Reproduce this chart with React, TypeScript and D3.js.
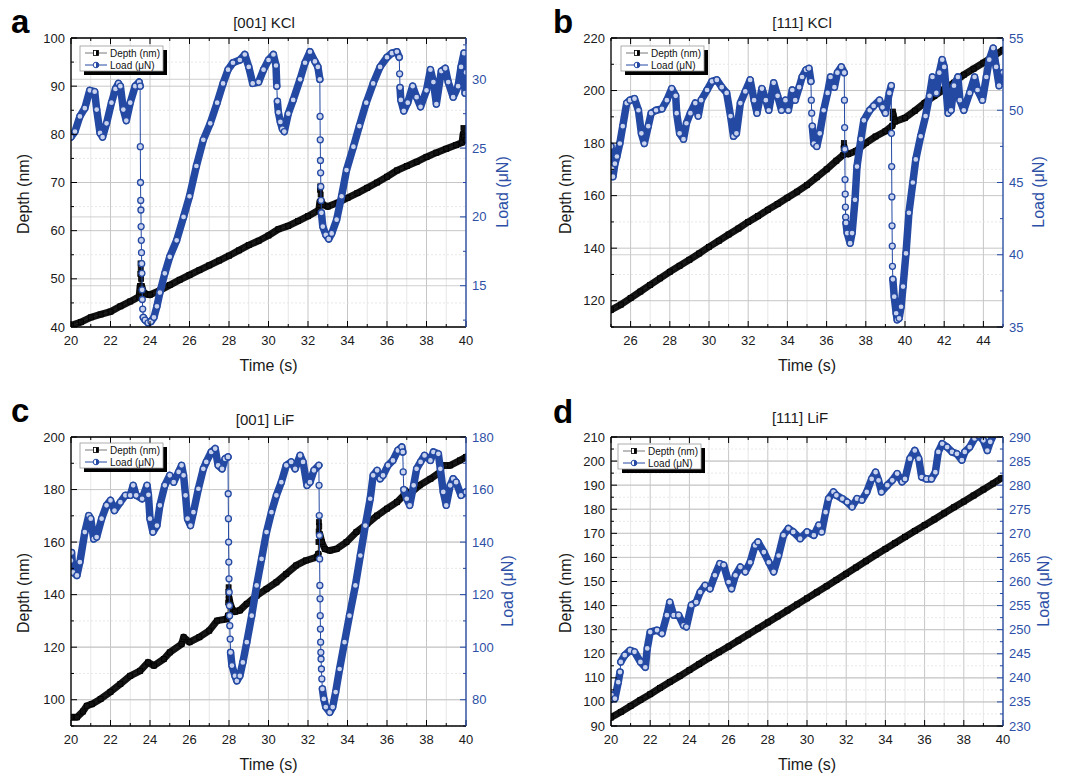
import React, { useEffect, useRef } from 'react';
import * as d3 from 'd3';

type Pt = [number, number];

const BLUE = '#2449a3';
const BLUE_TEXT = '#2d4fa6';
const FONT = 'Liberation Sans, Arial, Helvetica, sans-serif';

// ---- [001] KCl ----
const depthA: Pt[] = [
  [20.0, 40.3], [20.5, 41.0], [21.0, 42.0], [21.5, 42.6], [22.0, 43.2], [22.5, 44.3], [23.0, 45.3], [23.45, 46.3],
  [23.5, 48.5], [23.51, 51.0], [23.52, 53.2], [23.53, 52.0], [23.55, 50.0], [23.58, 48.5], [23.65, 47.5],
  [23.8, 46.8], [24.0, 46.7], [24.5, 47.6], [25.0, 48.7], [25.5, 49.8], [26.0, 50.8], [26.5, 51.8], [27.0, 52.8],
  [27.5, 53.8], [28.0, 54.8], [28.5, 55.9], [29.0, 57.0], [29.5, 57.9], [30.0, 59.0], [30.5, 60.3], [31.0, 61.0],
  [31.5, 62.0], [32.0, 63.0], [32.55, 64.3],
  [32.6, 66.0], [32.61, 68.5], [32.62, 69.2], [32.64, 67.5], [32.67, 66.2], [32.75, 65.4],
  [33.0, 65.0], [33.5, 65.8], [34.0, 66.8], [34.5, 67.8], [35.0, 68.9], [35.5, 70.0], [36.0, 71.2], [36.5, 72.5],
  [37.0, 73.4], [37.5, 74.3], [38.0, 75.3], [38.5, 76.2], [39.0, 77.0], [39.5, 77.8], [39.8, 78.3],
  [39.85, 80.0], [39.87, 81.3], [39.9, 79.5], [40.0, 78.8],
];
const loadA: Pt[] = [
  [20.0, 25.8], [20.2, 26.2], [20.45, 27.3], [20.7, 27.9], [20.95, 29.2], [21.2, 29.1], [21.3, 27.8], [21.47, 26.1],
  [21.6, 25.8], [21.8, 26.8], [22.05, 28.3], [22.25, 29.3], [22.4, 29.7], [22.5, 29.5], [22.65, 27.8], [22.8, 27.0],
  [23.0, 28.3], [23.25, 29.5], [23.45, 29.8], [23.5, 29.5],
  [23.51, 25.1], [23.52, 22.5], [23.53, 21.2], [23.54, 20.5], [23.55, 19.3], [23.56, 18.3], [23.57, 17.4],
  [23.58, 16.6], [23.59, 15.9], [23.6, 14.7], [23.61, 14.0], [23.63, 13.3], [23.66, 12.7],
  [23.75, 12.5], [23.9, 12.3], [24.05, 12.4], [24.2, 12.7], [24.35, 13.5], [24.5, 14.5], [24.75, 15.9], [25.0, 17.1],
  [25.35, 18.3], [25.7, 20.0], [26.0, 21.5], [26.35, 23.7], [26.7, 25.6], [27.05, 26.8], [27.4, 28.3], [27.7, 29.7],
  [27.95, 30.7], [28.2, 31.2], [28.55, 31.4], [28.8, 31.8], [29.0, 30.9], [29.2, 29.7], [29.5, 29.8], [29.75, 30.7],
  [30.0, 31.4], [30.25, 31.8], [30.38, 31.0],
  [30.42, 29.5], [30.45, 28.4], [30.5, 27.6], [30.6, 26.9], [30.7, 26.4], [30.8, 26.2], [31.0, 27.5], [31.25, 28.5],
  [31.6, 30.0], [31.85, 31.2], [32.1, 32.0], [32.35, 31.3], [32.5, 30.9], [32.6, 30.0],
  [32.61, 27.3], [32.62, 25.6], [32.63, 24.1], [32.64, 23.2], [32.65, 22.2], [32.66, 21.2], [32.68, 20.3],
  [32.75, 19.3], [32.9, 18.7], [33.05, 18.4], [33.2, 18.8], [33.45, 19.8], [33.7, 21.5], [33.95, 23.4], [34.3, 25.1],
  [34.6, 26.6], [34.95, 28.3], [35.3, 29.7], [35.65, 30.9], [36.0, 31.6], [36.25, 31.9], [36.5, 32.0], [36.62, 31.6],
  [36.64, 30.4], [36.66, 29.4], [36.7, 28.5], [36.85, 27.7], [37.05, 28.3], [37.3, 29.5], [37.5, 28.7], [37.7, 28.0],
  [38.0, 29.2], [38.2, 30.7], [38.35, 29.8], [38.5, 28.2], [38.75, 30.6], [38.95, 30.8], [39.1, 29.8], [39.35, 28.7],
  [39.6, 29.5], [39.75, 30.9], [39.9, 31.9], [39.95, 29.0], [40.0, 30.5],
];

// ---- [111] KCl ----
const depthB: Pt[] = [
  [25.0, 116.5], [25.5, 118.5], [26.0, 121.0], [26.5, 123.5], [27.0, 126.0], [27.5, 128.5], [28.0, 131.0],
  [28.5, 133.3], [29.0, 135.6], [29.5, 138.0], [30.0, 140.5], [30.5, 142.8], [31.0, 145.2], [31.5, 147.5],
  [32.0, 150.0], [32.5, 152.2], [33.0, 154.6], [33.5, 156.8], [34.0, 159.2], [34.5, 161.5], [35.0, 164.0],
  [35.5, 167.0], [36.0, 170.0], [36.5, 173.3], [36.85, 175.5],
  [36.87, 178.0], [36.88, 180.0], [36.9, 178.5], [36.95, 176.5],
  [37.1, 175.8], [37.5, 177.0], [38.0, 180.0], [38.5, 182.5], [39.0, 184.5], [39.35, 186.6],
  [39.37, 189.5], [39.38, 192.0], [39.4, 191.0], [39.45, 189.0],
  [39.5, 188.2], [40.0, 189.6], [40.5, 192.3], [41.0, 195.3], [41.5, 198.0], [42.0, 200.5], [42.5, 203.0],
  [43.0, 206.0], [43.5, 208.3], [44.0, 210.6], [44.5, 213.0], [45.0, 215.5],
];
const loadB: Pt[] = [
  [25.0, 47.5], [25.05, 46.0], [25.1, 45.4], [25.2, 46.3], [25.3, 46.8], [25.45, 47.7], [25.6, 48.9], [25.8, 50.5],
  [25.97, 50.7], [26.2, 50.8], [26.4, 50.0], [26.55, 48.4], [26.7, 47.7], [26.9, 48.9], [27.05, 49.8], [27.3, 50.0],
  [27.6, 50.1], [27.85, 50.7], [28.1, 51.5], [28.3, 51.0], [28.35, 49.8], [28.5, 48.4], [28.7, 48.0], [28.85, 49.1],
  [29.05, 49.8], [29.3, 50.5], [29.45, 49.6], [29.6, 50.7], [29.9, 51.4], [30.15, 52.0], [30.4, 52.1], [30.65, 51.6],
  [30.9, 51.2], [31.1, 49.6], [31.25, 48.2], [31.4, 48.4], [31.6, 50.5], [31.85, 51.3], [32.1, 52.1], [32.3, 50.7],
  [32.45, 49.8], [32.7, 51.5], [32.9, 50.7], [33.05, 50.0], [33.3, 51.9], [33.5, 51.0], [33.7, 50.0], [33.9, 50.7],
  [34.05, 50.0], [34.25, 51.4], [34.4, 50.7], [34.6, 51.6], [34.75, 52.3], [34.95, 52.8], [35.1, 52.9], [35.2, 52.0],
  [35.22, 50.7], [35.24, 49.8], [35.27, 48.9],
  [35.35, 47.7], [35.5, 47.5], [35.65, 48.4], [35.85, 50.0], [36.05, 51.2], [36.2, 52.3], [36.4, 51.6], [36.55, 52.6],
  [36.75, 53.0], [36.9, 52.6],
  [36.91, 50.7], [36.92, 48.8], [36.93, 47.3], [36.94, 45.2], [36.95, 44.2], [36.96, 43.3], [36.97, 42.6], [36.99, 42.2],
  [37.05, 41.5], [37.2, 40.8], [37.3, 41.5], [37.45, 43.8], [37.55, 46.1], [37.75, 48.0], [37.9, 49.3], [38.2, 50.0],
  [38.4, 50.3], [38.7, 50.7], [38.85, 50.2], [39.0, 49.8], [39.2, 51.2], [39.3, 51.7],
  [39.31, 48.4], [39.32, 46.1], [39.33, 44.0], [39.34, 42.0], [39.35, 40.6], [39.36, 39.2], [39.38, 38.3],
  [39.45, 37.1], [39.55, 35.95], [39.6, 35.5], [39.7, 35.6], [39.8, 36.4], [39.9, 37.8], [40.05, 40.1], [40.2, 42.9],
  [40.4, 45.0], [40.55, 46.6], [40.8, 48.2], [41.05, 49.6], [41.25, 51.0], [41.4, 52.3], [41.6, 51.2], [41.75, 52.6],
  [41.9, 53.5], [42.0, 53.0], [42.2, 49.8], [42.35, 50.0], [42.5, 51.7], [42.7, 52.3], [42.8, 50.7], [43.0, 50.0],
  [43.3, 51.2], [43.55, 52.3], [43.7, 51.4], [43.95, 50.7], [44.15, 52.3], [44.3, 53.5], [44.5, 54.3], [44.65, 53.0],
  [44.8, 51.7], [45.0, 52.6],
];

// ---- [001] LiF ----
const depthC: Pt[] = [
  [20.0, 93.3], [20.3, 93.3], [20.6, 95.5], [20.8, 97.7], [21.05, 98.3], [21.5, 100.3], [22.0, 103.0], [22.5, 106.0],
  [23.0, 109.1], [23.5, 111.0], [23.9, 114.2], [24.2, 113.0], [24.7, 115.5], [25.0, 118.0], [25.6, 121.2],
  [25.7, 123.8], [26.0, 121.9], [26.5, 123.8], [27.0, 126.3], [27.4, 130.1], [27.9, 130.7], [27.95, 132.0],
  [27.96, 137.0], [27.97, 141.0], [27.98, 142.8], [27.99, 141.0], [28.0, 139.0],
  [28.05, 137.0], [28.15, 134.6], [28.3, 133.5], [28.55, 134.0], [28.9, 136.5], [29.4, 139.6], [29.9, 142.2],
  [30.4, 144.7], [30.9, 147.9], [31.4, 151.1], [31.9, 153.0], [32.45, 154.3], [32.52, 155.5],
  [32.53, 160.0], [32.54, 164.0], [32.55, 167.6], [32.57, 166.0], [32.6, 163.0],
  [32.7, 160.0], [32.85, 157.4], [33.1, 156.8], [33.45, 157.4], [33.95, 160.0], [34.45, 163.8], [35.0, 167.0],
  [35.5, 170.1], [36.0, 172.7], [36.5, 175.2], [36.85, 177.8], [36.9, 179.7], [37.15, 178.4], [37.65, 181.6],
  [38.2, 184.1], [38.7, 186.7], [38.75, 189.2], [39.2, 189.2], [39.7, 191.1], [40.0, 192.4],
];
const loadC: Pt[] = [
  [20.0, 133.0], [20.03, 136.0], [20.1, 128.5], [20.3, 127.3], [20.45, 132.4], [20.7, 143.8], [20.9, 150.1],
  [21.0, 148.9], [21.15, 141.2], [21.3, 141.9], [21.55, 148.9], [21.8, 154.0], [22.0, 155.9], [22.2, 152.0],
  [22.5, 155.2], [22.75, 157.8], [23.0, 157.8], [23.15, 161.6], [23.3, 157.8], [23.6, 156.5], [23.85, 161.6],
  [23.92, 158.0], [24.0, 148.9], [24.15, 143.8], [24.35, 146.3], [24.5, 154.0], [24.75, 161.6], [25.0, 165.4],
  [25.2, 162.8], [25.45, 166.7], [25.6, 169.2], [25.7, 165.4], [25.8, 157.8], [25.9, 148.9], [26.05, 146.3],
  [26.2, 151.4], [26.45, 160.3], [26.7, 167.9], [26.85, 170.5], [27.1, 174.3], [27.3, 175.6], [27.45, 169.2],
  [27.65, 167.9], [27.8, 171.7], [27.95, 172.4],
  [27.96, 158.4], [27.97, 148.9], [27.98, 140.0], [27.99, 132.4], [28.0, 126.0], [28.01, 120.9], [28.02, 115.8],
  [28.03, 112.0], [28.04, 108.2], [28.06, 103.1], [28.08, 98.0],
  [28.15, 93.0], [28.3, 89.1], [28.4, 87.2], [28.55, 89.1], [28.7, 94.2], [28.9, 101.9], [29.15, 112.0],
  [29.4, 123.5], [29.65, 133.6], [29.9, 143.8], [30.15, 151.4], [30.4, 157.8], [30.65, 162.8], [30.9, 169.2],
  [31.15, 170.5], [31.35, 167.9], [31.6, 173.0], [31.75, 170.5], [31.95, 161.6], [32.1, 162.8], [32.3, 167.3],
  [32.55, 169.2],
  [32.56, 161.6], [32.57, 150.1], [32.58, 142.5], [32.59, 133.6], [32.6, 123.5], [32.61, 118.4], [32.62, 112.0],
  [32.63, 106.9], [32.64, 101.9], [32.65, 98.0], [32.66, 95.5], [32.68, 91.7], [32.7, 87.9], [32.73, 84.1],
  [32.8, 80.3], [32.9, 77.2], [33.1, 75.2], [33.25, 77.2], [33.4, 82.9], [33.6, 91.7], [33.85, 101.9], [34.1, 112.0],
  [34.4, 123.5], [34.65, 134.9], [34.9, 146.3], [35.15, 156.5], [35.3, 165.4], [35.5, 167.3], [35.65, 164.1],
  [35.8, 165.4], [36.05, 169.2], [36.3, 171.1], [36.55, 174.9], [36.75, 176.2], [36.8, 174.3],
  [36.82, 166.7], [36.85, 160.0],
  [37.0, 156.5], [37.15, 154.0], [37.35, 161.6], [37.5, 167.9], [37.7, 170.5], [37.9, 173.0], [38.2, 171.1],
  [38.35, 174.3], [38.6, 173.6], [38.7, 167.9], [38.85, 159.1], [39.0, 154.0], [39.2, 161.6], [39.35, 164.1],
  [39.5, 162.8], [39.75, 157.8], [40.0, 159.1],
];

// ---- [111] LiF ----
const depthD: Pt[] = [
  [20.0, 93.5], [20.5, 95.8], [21.0, 98.3], [21.5, 100.8], [22.0, 103.2], [22.5, 105.8], [23.0, 108.3],
  [23.5, 110.7], [24.0, 113.2], [24.5, 115.7], [25.0, 118.2], [25.5, 120.6], [26.0, 123.0], [26.5, 125.5],
  [27.0, 128.0], [27.5, 130.5], [28.0, 133.0], [28.5, 135.5], [29.0, 138.0], [29.5, 140.5], [30.0, 143.0],
  [30.5, 145.5], [31.0, 148.0], [31.5, 150.6], [32.0, 153.2], [32.5, 155.8], [33.0, 158.4], [33.5, 161.0],
  [34.0, 163.5], [34.5, 166.0], [35.0, 168.5], [35.5, 171.0], [36.0, 173.4], [36.5, 175.8], [37.0, 178.3],
  [37.5, 180.8], [38.0, 183.2], [38.5, 185.7], [39.0, 188.2], [39.5, 190.7], [39.9, 192.8],
];
const loadD: Pt[] = [
  [20.0, 235.5], [20.03, 236.4], [20.2, 235.7], [20.37, 239.1], [20.46, 241.2], [20.5, 243.3], [20.7, 244.7],
  [20.97, 245.7], [21.2, 245.4], [21.5, 243.3], [21.75, 242.2], [21.85, 246.1], [22.0, 249.5], [22.35, 249.9],
  [22.6, 249.2], [22.85, 253.0], [23.0, 255.7], [23.2, 253.0], [23.45, 253.0], [23.7, 250.9], [23.85, 250.6],
  [24.1, 255.1], [24.35, 255.7], [24.55, 257.8], [24.8, 259.2], [25.05, 258.5], [25.3, 261.3], [25.55, 263.7],
  [25.75, 263.4], [26.0, 259.9], [26.15, 258.5], [26.35, 261.3], [26.6, 263.0], [26.85, 262.0], [27.1, 264.0],
  [27.35, 267.5], [27.5, 268.2], [27.8, 266.1], [28.05, 264.0], [28.3, 262.0], [28.55, 265.4], [28.8, 269.6],
  [29.05, 271.0], [29.3, 270.3], [29.65, 268.9], [30.0, 270.3], [30.35, 269.6], [30.6, 271.7], [30.75, 270.3],
  [30.95, 274.4], [31.1, 277.2], [31.35, 278.6], [31.5, 277.9], [31.8, 277.2], [32.05, 276.5], [32.3, 275.5],
  [32.55, 277.2], [32.8, 276.9], [33.05, 278.6], [33.3, 281.3], [33.5, 282.7], [33.65, 281.0], [33.8, 278.6],
  [34.1, 280.0], [34.35, 281.0], [34.6, 282.4], [34.85, 280.7], [35.0, 281.3], [35.25, 285.5], [35.5, 287.2],
  [35.7, 285.5], [35.85, 281.7], [36.1, 281.3], [36.35, 281.3], [36.55, 282.7], [36.7, 286.9], [36.9, 288.6],
  [37.15, 287.9], [37.4, 286.9], [37.65, 286.5], [37.9, 285.2], [38.05, 286.9], [38.3, 287.9], [38.55, 289.7],
  [38.75, 290.3], [39.0, 289.3], [39.2, 287.2], [39.35, 289.0], [39.55, 290.7],
];

// tick labels
const TIME_TICKS = [20, 22, 24, 26, 28, 30, 32, 34, 36, 38, 40];
const TIME_TICKS_B = [26, 28, 30, 32, 34, 36, 38, 40, 42, 44];
const DEPTH_TICKS_A = [40, 50, 60, 70, 80, 90, 100];
const LOAD_TICKS_A = [15, 20, 25, 30];
const DEPTH_TICKS_B = [120, 140, 160, 180, 200, 220];
const LOAD_TICKS_B = [35, 40, 45, 50, 55];
const DEPTH_TICKS_C = [100, 120, 140, 160, 180, 200];
const LOAD_TICKS_C = [80, 100, 120, 140, 160, 180];
const DEPTH_TICKS_D = [90, 100, 110, 120, 130, 140, 150, 160, 170, 180, 190, 200, 210];
const LOAD_TICKS_D = [230, 235, 240, 245, 250, 255, 260, 265, 270, 275, 280, 285, 290];

const PANELS = [
  {
    id: 'a', title: '[001] KCl', depth: depthA, load: loadA,
    tDomain: [20, 40], tTicks: TIME_TICKS, dDomain: [40, 100], dTicks: DEPTH_TICKS_A, dStep: 10,
    lDomain: [12, 33], lTicks: LOAD_TICKS_A, lStep: 5,
    box: { left: 71, right: 466, top: 38, bottom: 327 },
    letter: [11, 33], titleAt: [264, 28], depthLabelX: 23, loadLabelX: 502, legend: [80, 46],
  },
  {
    id: 'b', title: '[111] KCl', depth: depthB, load: loadB,
    tDomain: [25, 45], tTicks: TIME_TICKS_B, dDomain: [110, 220], dTicks: DEPTH_TICKS_B, dStep: 20,
    lDomain: [35, 55], lTicks: LOAD_TICKS_B, lStep: 5,
    box: { left: 611, right: 1003, top: 38, bottom: 327 },
    letter: [553, 33], titleAt: [802, 28], depthLabelX: 565, loadLabelX: 1038, legend: [621, 46],
  },
  {
    id: 'c', title: '[001] LiF', depth: depthC, load: loadC,
    tDomain: [20, 40], tTicks: TIME_TICKS, dDomain: [90, 200], dTicks: DEPTH_TICKS_C, dStep: 20,
    lDomain: [70, 180], lTicks: LOAD_TICKS_C, lStep: 20,
    box: { left: 71, right: 466, top: 437, bottom: 726 },
    letter: [11, 422], titleAt: [265, 425], depthLabelX: 23, loadLabelX: 507, legend: [80, 443],
  },
  {
    id: 'd', title: '[111] LiF', depth: depthD, load: loadD,
    tDomain: [20, 40], tTicks: TIME_TICKS, dDomain: [90, 210], dTicks: DEPTH_TICKS_D, dStep: 10,
    lDomain: [230, 290], lTicks: LOAD_TICKS_D, lStep: 5,
    box: { left: 611, right: 1003, top: 437, bottom: 726 },
    letter: [553, 423], titleAt: [800, 423], depthLabelX: 565, loadLabelX: 1043, legend: [618, 444],
  },
];

// split a series into runs of normally spaced samples; fast jumps are drawn thin
function denseRuns(pts: Pt[], gap: number): Pt[][] {
  const out: Pt[][] = [];
  let cur: Pt[] = [pts[0]];
  for (let i = 1; i < pts.length; i++) {
    if (pts[i][0] - pts[i - 1][0] >= gap) cur.push(pts[i]);
    else {
      if (cur.length > 1) out.push(cur);
      cur = [pts[i]];
    }
  }
  if (cur.length > 1) out.push(cur);
  return out;
}

function halfSteps(domain: number[], step: number) {
  const h = step / 2;
  const start = Math.ceil(domain[0] / h - 1e-9) * h;
  return d3.range(start, domain[1] + 1e-6, h);
}

function drawPanel(svg: any, p: any) {
  const { left, right, top, bottom } = p.box;
  const x = d3.scaleLinear().domain(p.tDomain).range([left, right]);
  const yD = d3.scaleLinear().domain(p.dDomain).range([bottom, top]);
  const yL = d3.scaleLinear().domain(p.lDomain).range([bottom, top]);
  const g = svg.append('g');

  const clipId = `clip-${p.id}`;
  g.append('clipPath').attr('id', clipId)
    .append('rect').attr('x', left).attr('y', top).attr('width', right - left).attr('height', bottom - top);

  const tAll = d3.range(Math.ceil(p.tDomain[0]), p.tDomain[1] + 1e-6, 1);
  const dAll = halfSteps(p.dDomain, p.dStep);
  const lAll = halfSteps(p.lDomain, p.lStep);
  const isMajor = (v: number, ticks: number[]) => ticks.some(t => Math.abs(t - v) < 1e-6);

  // grid
  const grid = g.append('g');
  tAll.forEach(t => {
    const major = isMajor(t, p.tTicks);
    grid.append('line')
      .attr('x1', x(t)).attr('x2', x(t)).attr('y1', top).attr('y2', bottom)
      .attr('stroke', major ? '#c6c6c6' : '#e1e1e1')
      .attr('stroke-width', major ? 1 : 0.8);
  });
  dAll.forEach(v => {
    const major = isMajor(v, p.dTicks);
    grid.append('line')
      .attr('x1', left).attr('x2', right).attr('y1', yD(v)).attr('y2', yD(v))
      .attr('stroke', major ? '#c6c6c6' : '#e2e2e2')
      .attr('stroke-width', major ? 1 : 0.8)
      .attr('stroke-dasharray', major ? null : '2,2');
  });
  p.lTicks.forEach((v: number) => {
    grid.append('line')
      .attr('x1', left).attr('x2', right).attr('y1', yL(v)).attr('y2', yL(v))
      .attr('stroke', '#cbcbcb').attr('stroke-width', 0.9);
  });

  const data = g.append('g').attr('clip-path', `url(#${clipId})`);

  // depth (black squares)
  const lineD = d3.line<Pt>().x(d => x(d[0])).y(d => yD(d[1]));
  denseRuns(p.depth, 0.04).forEach(run => {
    data.append('path').attr('d', lineD(run)).attr('fill', 'none')
      .attr('stroke', '#111').attr('stroke-width', 7).attr('stroke-linejoin', 'round').attr('stroke-linecap', 'round');
  });
  data.append('path').attr('d', lineD(p.depth)).attr('fill', 'none').attr('stroke', '#222').attr('stroke-width', 1);
  data.selectAll('rect.dp').data(p.depth).join('rect').attr('class', 'dp')
    .attr('x', (d: Pt) => x(d[0]) - 2.5).attr('y', (d: Pt) => yD(d[1]) - 2.5)
    .attr('width', 5).attr('height', 5)
    .attr('fill', '#111').attr('stroke', '#000').attr('stroke-width', 0.8);

  // load (blue circles)
  const lineL = d3.line<Pt>().x(d => x(d[0])).y(d => yL(d[1]));
  denseRuns(p.load, 0.04).forEach(run => {
    data.append('path').attr('d', lineL(run)).attr('fill', 'none')
      .attr('stroke', BLUE).attr('stroke-width', 7.5).attr('stroke-linejoin', 'round').attr('stroke-linecap', 'round');
  });
  data.append('path').attr('d', lineL(p.load)).attr('fill', 'none').attr('stroke', BLUE).attr('stroke-width', 1);
  data.selectAll('circle.lp').data(p.load).join('circle').attr('class', 'lp')
    .attr('cx', (d: Pt) => x(d[0])).attr('cy', (d: Pt) => yL(d[1])).attr('r', 3)
    .attr('fill', '#c9d3ee').attr('stroke', BLUE).attr('stroke-width', 1.3);

  // ticks (inward)
  const ax = g.append('g');
  tAll.forEach(t => {
    const len = isMajor(t, p.tTicks) ? 6 : 3;
    ax.append('line').attr('x1', x(t)).attr('x2', x(t)).attr('y1', bottom).attr('y2', bottom - len).attr('stroke', '#000');
    ax.append('line').attr('x1', x(t)).attr('x2', x(t)).attr('y1', top).attr('y2', top + len).attr('stroke', '#000');
  });
  dAll.forEach(v => {
    const len = isMajor(v, p.dTicks) ? 6 : 3;
    ax.append('line').attr('x1', left).attr('x2', left + len).attr('y1', yD(v)).attr('y2', yD(v)).attr('stroke', '#000');
  });
  lAll.forEach(v => {
    const len = isMajor(v, p.lTicks) ? 6 : 3;
    ax.append('line').attr('x1', right).attr('x2', right - len).attr('y1', yL(v)).attr('y2', yL(v)).attr('stroke', BLUE);
  });

  // frame
  ax.append('line').attr('x1', left).attr('x2', right).attr('y1', top).attr('y2', top).attr('stroke', '#000').attr('stroke-width', 1.3);
  ax.append('line').attr('x1', left).attr('x2', right).attr('y1', bottom).attr('y2', bottom).attr('stroke', '#000').attr('stroke-width', 1.3);
  ax.append('line').attr('x1', left).attr('x2', left).attr('y1', top).attr('y2', bottom).attr('stroke', '#000').attr('stroke-width', 1.3);
  ax.append('line').attr('x1', right).attr('x2', right).attr('y1', top).attr('y2', bottom).attr('stroke', BLUE).attr('stroke-width', 1.3);

  // tick labels
  const txt = g.append('g').style('font-family', FONT);
  p.tTicks.forEach((t: number) => {
    txt.append('text').attr('x', x(t)).attr('y', bottom + 18).attr('text-anchor', 'middle')
      .style('font-size', '13px').attr('fill', '#1a1a1a').text(t);
  });
  p.dTicks.forEach((v: number) => {
    txt.append('text').attr('x', left - 6).attr('y', yD(v) + 4.5).attr('text-anchor', 'end')
      .style('font-size', '13px').attr('fill', '#1a1a1a').text(v);
  });
  p.lTicks.forEach((v: number) => {
    txt.append('text').attr('x', right + 6).attr('y', yL(v) + 4.5).attr('text-anchor', 'start')
      .style('font-size', '13px').attr('fill', BLUE_TEXT).text(v);
  });

  // axis titles
  txt.append('text').attr('x', (left + right) / 2).attr('y', bottom + 44).attr('text-anchor', 'middle')
    .style('font-size', '16px').attr('fill', '#1a1a1a').text('Time (s)');
  const cyL = top + 156;
  txt.append('text').attr('transform', `translate(${p.depthLabelX},${cyL}) rotate(-90)`)
    .attr('text-anchor', 'middle').attr('dy', '0.35em')
    .style('font-size', '16px').attr('fill', '#1a1a1a').text('Depth (nm)');
  txt.append('text').attr('transform', `translate(${p.loadLabelX},${cyL - 2}) rotate(-90)`)
    .attr('text-anchor', 'middle').attr('dy', '0.35em')
    .style('font-size', '16px').attr('fill', BLUE_TEXT).text('Load (μN)');

  // panel title and letter
  txt.append('text').attr('x', p.titleAt[0]).attr('y', p.titleAt[1]).attr('text-anchor', 'middle')
    .style('font-size', '15px').attr('fill', '#1a1a1a').text(p.title);
  txt.append('text').attr('x', p.letter[0]).attr('y', p.letter[1])
    .style('font-size', '33px').style('font-weight', '700').attr('fill', '#000').text(p.id);

  // legend
  const [lx, ly] = p.legend;
  const lg = g.append('g').attr('transform', `translate(${lx},${ly})`).style('font-family', FONT);
  lg.append('rect').attr('x', 4).attr('y', 4).attr('width', 83).attr('height', 25).attr('fill', '#000');
  lg.append('rect').attr('x', 0).attr('y', 0).attr('width', 83).attr('height', 25)
    .attr('fill', '#fff').attr('stroke', '#9a9a9a').attr('stroke-width', 0.8);
  // depth entry
  lg.append('line').attr('x1', 5).attr('x2', 27).attr('y1', 7).attr('y2', 7).attr('stroke', '#555').attr('stroke-width', 0.8);
  lg.append('rect').attr('x', 13.5).attr('y', 4.5).attr('width', 5).attr('height', 5).attr('fill', '#fff').attr('stroke', '#000').attr('stroke-width', 0.8);
  lg.append('rect').attr('x', 16).attr('y', 4.5).attr('width', 2.5).attr('height', 5).attr('fill', '#000');
  lg.append('text').attr('x', 30).attr('y', 10.5).style('font-size', '10px').attr('fill', '#111').text('Depth (nm)');
  // load entry
  lg.append('line').attr('x1', 5).attr('x2', 27).attr('y1', 19).attr('y2', 19).attr('stroke', BLUE).attr('stroke-width', 1);
  lg.append('circle').attr('cx', 16).attr('cy', 19).attr('r', 2.8).attr('fill', '#fff').attr('stroke', BLUE).attr('stroke-width', 1);
  lg.append('path').attr('d', 'M16,16.2 A2.8,2.8 0 0 1 16,21.8 Z').attr('fill', BLUE);
  lg.append('text').attr('x', 30).attr('y', 22.5).style('font-size', '10px').attr('fill', '#111').text('Load (μN)');
}

export default function App() {
  const svgRef = useRef<SVGSVGElement>(null);

  useEffect(() => {
    const svg = d3.select(svgRef.current);
    svg.selectAll('*').remove();
    svg.append('rect').attr('width', 1065).attr('height', 774).attr('fill', '#fff');
    PANELS.forEach(p => drawPanel(svg, p));
  }, []);

  return (
    <svg ref={svgRef} width={1065} height={774} style={{ position: 'absolute', left: 0, top: 0 }} />
  );
}
